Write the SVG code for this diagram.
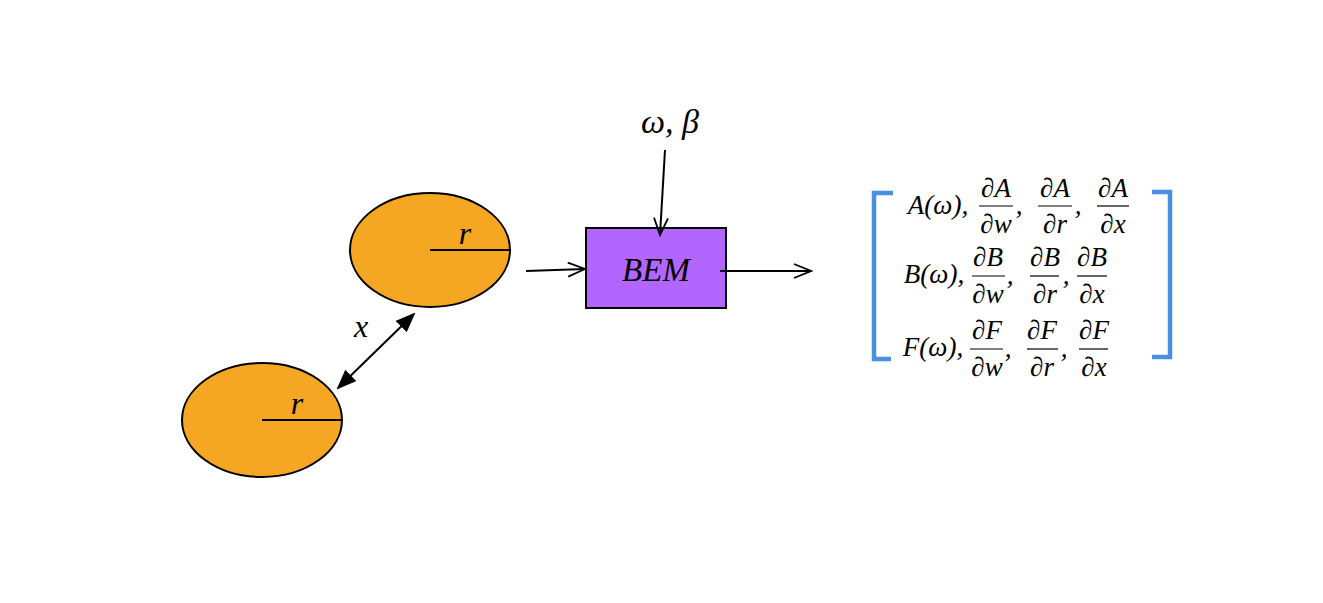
<svg xmlns="http://www.w3.org/2000/svg" width="1323" height="603" viewBox="0 0 1323 603">
<style>
.ell{fill:#f5a623;stroke:#000;stroke-width:2}
.ln{stroke:#000;stroke-width:2;fill:none}
.m{font-family:"Liberation Serif","DejaVu Serif",serif;font-style:italic;fill:#000}
.br{stroke:#4a90e2;stroke-width:4.5;fill:none}
.fb{stroke:#000;stroke-width:1.2}
</style>
<defs>
<marker id="open" viewBox="0 0 20 16" refX="18" refY="8" markerWidth="20" markerHeight="16" markerUnits="userSpaceOnUse" orient="auto">
<path d="M1,1 L18,8 L1,15" fill="none" stroke="#000" stroke-width="1.8"/>
</marker>
<marker id="tri" viewBox="0 0 20 16" refX="18" refY="8" markerWidth="20" markerHeight="16" markerUnits="userSpaceOnUse" orient="auto">
<path d="M0,0 L20,8 L0,16 Z" fill="#000"/>
</marker>
<marker id="triS" viewBox="0 0 20 16" refX="2" refY="8" markerWidth="20" markerHeight="16" markerUnits="userSpaceOnUse" orient="auto">
<path d="M20,0 L0,8 L20,16 Z" fill="#000"/>
</marker>
</defs>
<rect width="1323" height="603" fill="#fff"/>
<g id="sphere1">
<ellipse class="ell" cx="430" cy="250" rx="80" ry="57"/>
<line class="ln" x1="430" y1="250" x2="510" y2="250"/>
<text class="m" x="465" y="244" font-size="32" text-anchor="middle">r</text>
</g>
<g id="sphere2">
<ellipse class="ell" cx="262" cy="420" rx="80" ry="57"/>
<line class="ln" x1="262" y1="420" x2="342" y2="420"/>
<text class="m" x="297" y="414" font-size="32" text-anchor="middle">r</text>
</g>
<g id="bem">
<rect x="586" y="228" width="140" height="80" fill="#b366ff" stroke="#000" stroke-width="2"/>
<text class="m" x="656" y="281" font-size="33" text-anchor="middle">BEM</text>
</g>
<g id="params">
<text class="m" x="670" y="133" font-size="34" text-anchor="middle">ω, β</text>
</g>
<g id="x-label">
<text class="m" x="361" y="337" font-size="32" text-anchor="middle">x</text>
</g>
<g id="connectors">
<line class="ln" x1="338" y1="388" x2="414" y2="314" marker-start="url(#triS)" marker-end="url(#tri)"/>
<line class="ln" x1="526" y1="271" x2="585" y2="269" marker-end="url(#open)"/>
<line class="ln" x1="665" y1="150" x2="660" y2="235" marker-end="url(#open)"/>
<line class="ln" x1="720" y1="271" x2="811" y2="271" marker-end="url(#open)"/>
</g>
<g id="matrix">
<path class="br" d="M893,193 L874,193 L874,359 L891,359"/>
<path class="br" d="M1152,192 L1170,192 L1170,357 L1152,357"/>
<g class="m" font-size="27" text-anchor="middle">
<text x="938" y="214">A(ω),</text>
<text x="996" y="197">∂A</text><line class="fb" x1="979" y1="206" x2="1013" y2="206"/><text x="996" y="233">∂w</text><text x="1019" y="214">,</text>
<text x="1055" y="197">∂A</text><line class="fb" x1="1038" y1="206" x2="1072" y2="206"/><text x="1055" y="233">∂r</text><text x="1078" y="214">,</text>
<text x="1113" y="197">∂A</text><line class="fb" x1="1097" y1="206" x2="1129" y2="206"/><text x="1113" y="233">∂x</text>

<text x="934" y="283">B(ω),</text>
<text x="988" y="266">∂B</text><line class="fb" x1="972" y1="276" x2="1005" y2="276"/><text x="988" y="303">∂w</text><text x="1010" y="284">,</text>
<text x="1045" y="266">∂B</text><line class="fb" x1="1030" y1="276" x2="1059" y2="276"/><text x="1045" y="303">∂r</text><text x="1066" y="284">,</text>
<text x="1092" y="266">∂B</text><line class="fb" x1="1077" y1="276" x2="1107" y2="276"/><text x="1092" y="303">∂x</text>

<text x="933" y="356">F(ω),</text>
<text x="987" y="339">∂F</text><line class="fb" x1="970" y1="349" x2="1003" y2="349"/><text x="987" y="376">∂w</text><text x="1008" y="357">,</text>
<text x="1042" y="339">∂F</text><line class="fb" x1="1027" y1="349" x2="1058" y2="349"/><text x="1042" y="376">∂r</text><text x="1064" y="357">,</text>
<text x="1094" y="339">∂F</text><line class="fb" x1="1079" y1="349" x2="1108" y2="349"/><text x="1094" y="376">∂x</text>
</g>
</g>
</svg>
